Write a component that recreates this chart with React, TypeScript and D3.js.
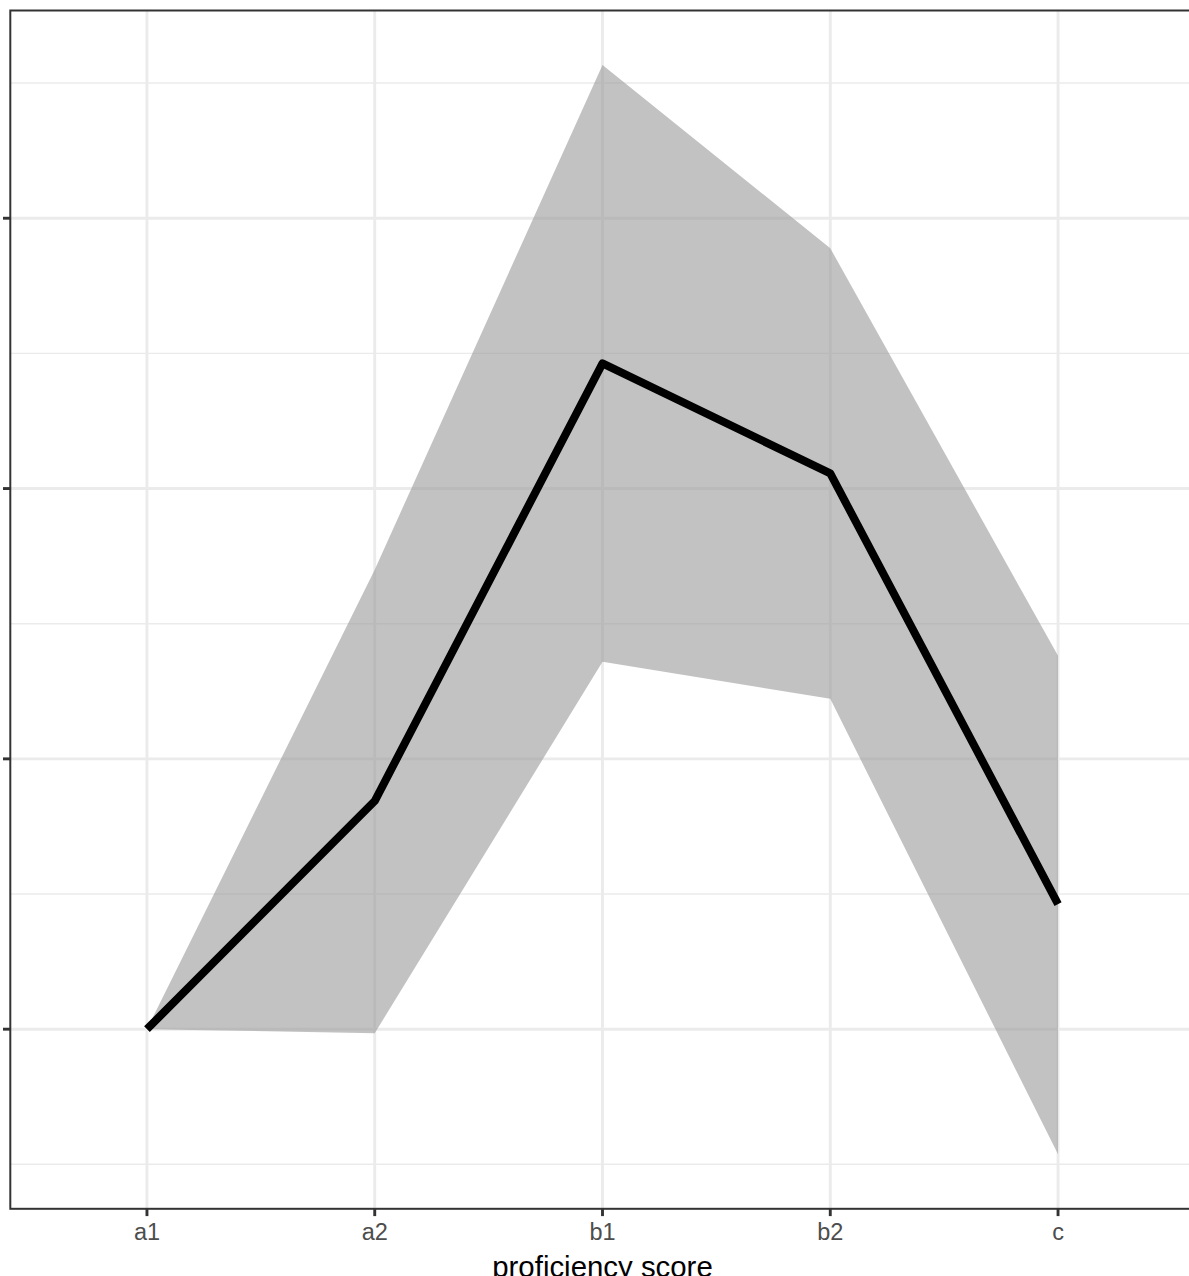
import React from "react";
import * as d3 from "d3";

const categories = ["a1", "a2", "b1", "b2", "c"];
const meanValues = [0, 0.844, 2.463, 2.056, 0.463];
const upperValues = [0, 1.70, 3.567, 2.889, 1.381];
const lowerValues = [0, -0.015, 1.359, 1.222, -0.463];
const majorTicks = [0, 1, 2, 3];
const minorTicks = [-0.5, 0.5, 1.5, 2.5, 3.5];
const xTitle = "proficiency score";

const W = 1189;
const H = 1276;

export default function App() {
  const left = 10.3;
  const right = 1194.7;
  const top = 10.5;
  const bottom = 1208.8;

  const x = d3
    .scalePoint<string>()
    .domain(categories)
    .range([left, right])
    .padding(0.6);

  const all = [...meanValues, ...upperValues, ...lowerValues];
  const lo = d3.min(all)!;
  const hi = d3.max(all)!;
  const span = hi - lo;
  const y = d3
    .scaleLinear()
    .domain([lo - 0.05 * span, hi + 0.05 * span])
    .range([bottom, top]);

  const rows = categories.map((c, i) => ({
    c,
    m: meanValues[i],
    u: upperValues[i],
    l: lowerValues[i],
  }));

  const area = d3
    .area<(typeof rows)[number]>()
    .x((d) => x(d.c)!)
    .y0((d) => y(d.l))
    .y1((d) => y(d.u));
  const line = d3
    .line<(typeof rows)[number]>()
    .x((d) => x(d.c)!)
    .y((d) => y(d.m));

  const font = "'Liberation Sans', Arial, Helvetica, sans-serif";

  return (
    <svg
      width={W}
      height={H}
      style={{ position: "absolute", left: 0, top: 0, display: "block" }}
    >
      <rect x={0} y={0} width={W} height={H} fill="#ffffff" />
      <defs>
        <clipPath id="panel">
          <rect x={left} y={top} width={right - left} height={bottom - top} />
        </clipPath>
      </defs>
      <g clipPath="url(#panel)">
        {minorTicks.map((t) => (
          <line
            key={"mn" + t}
            x1={left}
            x2={right}
            y1={y(t)}
            y2={y(t)}
            stroke="#EBEBEB"
            strokeWidth={1.45}
          />
        ))}
        {majorTicks.map((t) => (
          <line
            key={"mj" + t}
            x1={left}
            x2={right}
            y1={y(t)}
            y2={y(t)}
            stroke="#EBEBEB"
            strokeWidth={2.9}
          />
        ))}
        {categories.map((c) => (
          <line
            key={"v" + c}
            x1={x(c)!}
            x2={x(c)!}
            y1={top}
            y2={bottom}
            stroke="#EBEBEB"
            strokeWidth={2.9}
          />
        ))}
        <path d={area(rows)!} fill="#999999" fillOpacity={0.6} />
        <path
          d={line(rows)!}
          fill="none"
          stroke="#000000"
          strokeWidth={8}
          strokeLinejoin="round"
          strokeLinecap="butt"
        />
      </g>
      <rect
        x={left}
        y={top}
        width={right - left}
        height={bottom - top}
        fill="none"
        stroke="#333333"
        strokeWidth={2}
      />
      {majorTicks.map((t) => (
        <line
          key={"yt" + t}
          x1={left - 7.3}
          x2={left}
          y1={y(t)}
          y2={y(t)}
          stroke="#333333"
          strokeWidth={2.9}
        />
      ))}
      {categories.map((c) => (
        <g key={"xt" + c}>
          <line
            x1={x(c)!}
            x2={x(c)!}
            y1={bottom}
            y2={bottom + 7.3}
            stroke="#333333"
            strokeWidth={2.9}
          />
          <text
            x={x(c)!}
            y={1240}
            textAnchor="middle"
            fontFamily={font}
            fontSize={23.5}
            fill="#4D4D4D"
          >
            {c}
          </text>
        </g>
      ))}
      <text
        x={(left + right) / 2}
        y={1277}
        textAnchor="middle"
        fontFamily={font}
        fontSize={29.4}
        fill="#000000"
      >
        {xTitle}
      </text>
    </svg>
  );
}
